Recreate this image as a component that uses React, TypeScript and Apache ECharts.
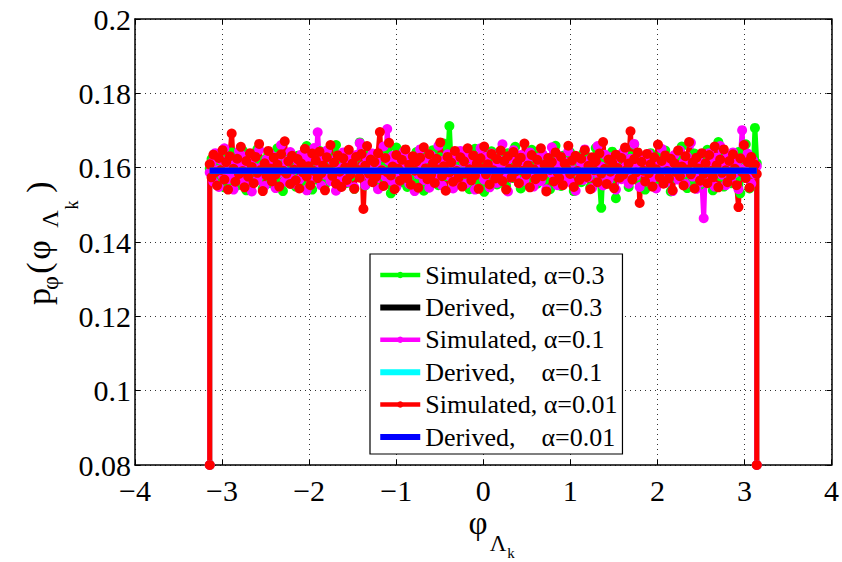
import React, { useEffect, useRef } from "react";
import * as echarts from "echarts";

const X_TICKS = [-4, -3, -2, -1, 0, 1, 2, 3, 4];
const Y_TICKS = [0.08, 0.1, 0.12, 0.14, 0.16, 0.18, 0.2];
const EDGE = 0.08;
const DERIVED = [0.1592, 0.1592];

const SIM_03 = [
  0.1598, 0.1623, 0.1571, 0.1609, 0.1556, 0.1634, 0.1588, 0.1612, 0.1547, 0.1629, 0.1594, 0.1566, 0.1641, 0.1583, 0.1605,
  0.1552, 0.1618, 0.1577, 0.1646, 0.1591, 0.1539, 0.1614, 0.1586, 0.1627, 0.1562, 0.1601, 0.1649, 0.1573, 0.1608, 0.1544,
  0.1621, 0.1589, 0.1636, 0.1558, 0.1597, 0.1615, 0.1569, 0.1652, 0.1584, 0.1603, 0.1537, 0.1626, 0.1592, 0.1574, 0.1639,
  0.1581, 0.1611, 0.1549, 0.1632, 0.1596, 0.1563, 0.1619, 0.1587, 0.1658, 0.1575, 0.1602, 0.1541, 0.1624, 0.1593, 0.1567,
  0.1645, 0.1579, 0.1613, 0.1554, 0.1637, 0.1598, 0.1571, 0.1622, 0.1585, 0.1661, 0.1594, 0.1548, 0.1617, 0.1582, 0.1606,
  0.1559, 0.1631, 0.1576, 0.1609, 0.1543, 0.1627, 0.1591, 0.1668, 0.1578, 0.1604, 0.1552, 0.1635, 0.1588, 0.1615, 0.1564,
  0.1621, 0.1597, 0.1545, 0.1638, 0.1583, 0.1612, 0.1569, 0.1643, 0.1592, 0.1531, 0.1618, 0.1586, 0.1654, 0.1573, 0.1607,
  0.1561, 0.1629, 0.1595, 0.1548, 0.1624, 0.1581, 0.1613, 0.1557, 0.1642, 0.1599, 0.1574, 0.1616, 0.1538, 0.1633, 0.1589,
  0.1605, 0.1566, 0.1647, 0.1584, 0.1611, 0.1553, 0.1628, 0.1596, 0.1665, 0.1577, 0.1619, 0.1712, 0.1602, 0.1546, 0.1623,
  0.1587, 0.1614, 0.1559, 0.1636, 0.1593, 0.1571, 0.1626, 0.1542, 0.1609, 0.1582, 0.1651, 0.1597, 0.1564, 0.1618, 0.1589,
  0.1535, 0.1623, 0.1601, 0.1576, 0.1644, 0.1585, 0.1612, 0.1555, 0.1631, 0.1594, 0.1568, 0.1617, 0.1549, 0.1639, 0.1592,
  0.1608, 0.1572, 0.1656, 0.1583, 0.1615, 0.1544, 0.1627, 0.1598, 0.1563, 0.1621, 0.1586, 0.1648, 0.1579, 0.1603, 0.1557,
  0.1634, 0.1591, 0.1612, 0.1566, 0.1625, 0.1581, 0.1542, 0.1619, 0.1596, 0.1659, 0.1574, 0.1607, 0.1551, 0.1632, 0.1588,
  0.1613, 0.1569, 0.1641, 0.1595, 0.1537, 0.1622, 0.1584, 0.1606, 0.1561, 0.1637, 0.1592, 0.1575, 0.1628, 0.1547, 0.1611,
  0.1583, 0.1653, 0.1598, 0.1565, 0.1492, 0.1604, 0.1626, 0.1578, 0.1615, 0.1556, 0.1643, 0.1589, 0.1518, 0.1621, 0.1597,
  0.1572, 0.1634, 0.1585, 0.1609, 0.1548, 0.1631, 0.1593, 0.1662, 0.1576, 0.1612, 0.1558, 0.1625, 0.1599, 0.1541, 0.1617,
  0.1587, 0.1639, 0.1568, 0.1604, 0.1553, 0.1628, 0.1591, 0.1614, 0.1562, 0.1646, 0.1582, 0.1607, 0.1536, 0.1623, 0.1595,
  0.1571, 0.1632, 0.1589, 0.1657, 0.1578, 0.1611, 0.1545, 0.1619, 0.1594, 0.1566, 0.1638, 0.1583, 0.1602, 0.1554, 0.1626,
  0.1597, 0.1563, 0.1648, 0.1586, 0.1613, 0.1539, 0.1621, 0.1592, 0.1669, 0.1577, 0.1605, 0.1549, 0.1633, 0.1581, 0.1616,
  0.1558, 0.1627, 0.1596, 0.1573, 0.1642, 0.1531, 0.1609, 0.1588, 0.1663, 0.1601, 0.1544, 0.1624, 0.1585, 0.1707, 0.1612,
];

const SIM_01 = [
  0.1587, 0.1613, 0.1562, 0.1639, 0.1594, 0.1548, 0.1621, 0.1578, 0.1652, 0.1603, 0.1569, 0.1626, 0.1583, 0.1541, 0.1617,
  0.1596, 0.1644, 0.1572, 0.1609, 0.1555, 0.1631, 0.1588, 0.1614, 0.1536, 0.1627, 0.1599, 0.1566, 0.1648, 0.1581, 0.1605,
  0.1551, 0.1622, 0.1593, 0.1637, 0.1574, 0.1611, 0.1545, 0.1629, 0.1586, 0.1661, 0.1597, 0.1563, 0.1618, 0.1579, 0.1642,
  0.1591, 0.1557, 0.1624, 0.1602, 0.1568, 0.1635, 0.1584, 0.1612, 0.1539, 0.1628, 0.1595, 0.1571, 0.1653, 0.1589, 0.1695,
  0.1606, 0.1552, 0.1623, 0.1581, 0.1646, 0.1593, 0.1564, 0.1619, 0.1587, 0.1538, 0.1632, 0.1598, 0.1575, 0.1641, 0.1609,
  0.1561, 0.1627, 0.1585, 0.1615, 0.1547, 0.1634, 0.1592, 0.1666, 0.1578, 0.1604, 0.1553, 0.1625, 0.1596, 0.1569, 0.1638,
  0.1583, 0.1611, 0.1542, 0.1629, 0.1594, 0.1657, 0.1576, 0.1704, 0.1618, 0.1565, 0.1632, 0.1587, 0.1548, 0.1621, 0.1599,
  0.1574, 0.1643, 0.1589, 0.1612, 0.1556, 0.1628, 0.1593, 0.1537, 0.1616, 0.1582, 0.1649, 0.1601, 0.1567, 0.1624, 0.1591,
  0.1546, 0.1633, 0.1585, 0.1608, 0.1571, 0.1659, 0.1597, 0.1552, 0.1619, 0.1586, 0.1636, 0.1578, 0.1611, 0.1544, 0.1627,
  0.1595, 0.1563, 0.1645, 0.1588, 0.1614, 0.1557, 0.1631, 0.1599, 0.1572, 0.1623, 0.1541, 0.1617, 0.1584, 0.1652, 0.1596,
  0.1568, 0.1629, 0.1591, 0.1547, 0.1638, 0.1582, 0.1606, 0.1559, 0.1621, 0.1594, 0.1663, 0.1577, 0.1613, 0.1536, 0.1625,
  0.1589, 0.1647, 0.1573, 0.1602, 0.1558, 0.1634, 0.1596, 0.1565, 0.1618, 0.1584, 0.1641, 0.1592, 0.1549, 0.1627, 0.1581,
  0.1612, 0.1564, 0.1636, 0.1598, 0.1542, 0.1623, 0.1587, 0.1655, 0.1579, 0.1608, 0.1553, 0.1631, 0.1595, 0.1572, 0.1616,
  0.1586, 0.1644, 0.1561, 0.1619, 0.1593, 0.1538, 0.1627, 0.1582, 0.1611, 0.1567, 0.1649, 0.1597, 0.1575, 0.1622, 0.1545,
  0.1614, 0.1589, 0.1658, 0.1574, 0.1603, 0.1552, 0.1635, 0.1591, 0.1566, 0.1628, 0.1583, 0.1617, 0.1541, 0.1632, 0.1598,
  0.1569, 0.1642, 0.1585, 0.1612, 0.1557, 0.1624, 0.1594, 0.1664, 0.1578, 0.1606, 0.1548, 0.1631, 0.1589, 0.1615, 0.1563,
  0.1637, 0.1592, 0.1571, 0.1626, 0.1544, 0.1618, 0.1586, 0.1651, 0.1599, 0.1559, 0.1623, 0.1581, 0.1609, 0.1537, 0.1634,
  0.1595, 0.1568, 0.1646, 0.1583, 0.1614, 0.1556, 0.1629, 0.1592, 0.1667, 0.1576, 0.1604, 0.1543, 0.1621, 0.1588, 0.1561,
  0.1464, 0.1611, 0.1587, 0.1639, 0.1572, 0.1616, 0.1549, 0.1627, 0.1596, 0.1658, 0.1581, 0.1607, 0.1553, 0.1632, 0.1593,
  0.1566, 0.1641, 0.1585, 0.1613, 0.1542, 0.1624, 0.1701, 0.1597, 0.1574, 0.1638, 0.1589, 0.1557, 0.1619, 0.1583, 0.1604,
];

const SIM_001 = [
  0.1609, 0.1574, 0.1635, 0.1588, 0.1552, 0.1626, 0.1593, 0.1647, 0.1568, 0.1615, 0.1541, 0.1631, 0.1692, 0.1597, 0.1562,
  0.1624, 0.1583, 0.1656, 0.1591, 0.1547, 0.1618, 0.1576, 0.1639, 0.1602, 0.1558, 0.1629, 0.1586, 0.1664, 0.1594, 0.1537,
  0.1612, 0.1579, 0.1645, 0.1598, 0.1563, 0.1627, 0.1581, 0.1608, 0.1549, 0.1636, 0.1592, 0.1671, 0.1584, 0.1617, 0.1556,
  0.1632, 0.1595, 0.1566, 0.1623, 0.1544, 0.1611, 0.1587, 0.1651, 0.1576, 0.1604, 0.1553, 0.1638, 0.1591, 0.1619, 0.1572,
  0.1643, 0.1585, 0.1606, 0.1539, 0.1628, 0.1596, 0.1661, 0.1578, 0.1614, 0.1557, 0.1633, 0.1589, 0.1548, 0.1625, 0.1601,
  0.1567, 0.1648, 0.1582, 0.1611, 0.1543, 0.1629, 0.1594, 0.1573, 0.1637, 0.1489, 0.1605, 0.1658, 0.1584, 0.1622, 0.1561,
  0.1615, 0.1576, 0.1639, 0.1696, 0.1593, 0.1551, 0.1626, 0.1588, 0.1667, 0.1579, 0.1603, 0.1542, 0.1634, 0.1597, 0.1565,
  0.1621, 0.1586, 0.1649, 0.1572, 0.1608, 0.1554, 0.1631, 0.1592, 0.1617, 0.1546, 0.1627, 0.1583, 0.1655, 0.1598, 0.1569,
  0.1636, 0.1581, 0.1612, 0.1559, 0.1624, 0.1595, 0.1668, 0.1577, 0.1604, 0.1538, 0.1629, 0.1587, 0.1614, 0.1562, 0.1645,
  0.1591, 0.1573, 0.1628, 0.1549, 0.1617, 0.1584, 0.1652, 0.1596, 0.1566, 0.1633, 0.1579, 0.1611, 0.1543, 0.1625, 0.1598,
  0.1657, 0.1582, 0.1609, 0.1555, 0.1637, 0.1593, 0.1571, 0.1623, 0.1586, 0.1646, 0.1564, 0.1618, 0.1541, 0.1631, 0.1597,
  0.1574, 0.1642, 0.1589, 0.1613, 0.1558, 0.1627, 0.1592, 0.1665, 0.1581, 0.1606, 0.1547, 0.1634, 0.1596, 0.1569, 0.1621,
  0.1585, 0.1652, 0.1577, 0.1608, 0.1536, 0.1626, 0.1594, 0.1615, 0.1563, 0.1641, 0.1588, 0.1572, 0.1629, 0.1553, 0.1611,
  0.1596, 0.1659, 0.1583, 0.1619, 0.1548, 0.1632, 0.1591, 0.1567, 0.1624, 0.1587, 0.1647, 0.1575, 0.1605, 0.1542, 0.1628,
  0.1593, 0.1617, 0.1561, 0.1638, 0.1584, 0.1669, 0.1597, 0.1556, 0.1622, 0.1589, 0.1613, 0.1545, 0.1635, 0.1599, 0.1573,
  0.1626, 0.1581, 0.1654, 0.1594, 0.1611, 0.1698, 0.1568, 0.1623, 0.1587, 0.1641, 0.1505, 0.1616, 0.1592, 0.1563, 0.1637,
  0.1585, 0.1609, 0.1549, 0.1628, 0.1596, 0.1662, 0.1574, 0.1618, 0.1557, 0.1633, 0.1591, 0.1571, 0.1624, 0.1539, 0.1612,
  0.1588, 0.1646, 0.1577, 0.1603, 0.1552, 0.1631, 0.1595, 0.1669, 0.1582, 0.1614, 0.1544, 0.1627, 0.1598, 0.1565, 0.1639,
  0.1583, 0.1612, 0.1558, 0.1634, 0.1591, 0.1574, 0.1657, 0.1606, 0.1547, 0.1622, 0.1586, 0.1649, 0.1593, 0.1561, 0.1618,
  0.1579, 0.1636, 0.1597, 0.1553, 0.1494, 0.1625, 0.1588, 0.1661, 0.1572, 0.1615, 0.1546, 0.1629, 0.1594, 0.1608, 0.1583,
];

const NAMES = [
  "Simulated, \u03b1=0.3",
  "Derived,    \u03b1=0.3",
  "Simulated, \u03b1=0.1",
  "Derived,    \u03b1=0.1",
  "Simulated, \u03b1=0.01",
  "Derived,    \u03b1=0.01",
];
const COLORS = ["#00ff00", "#000000", "#ff00ff", "#00ffff", "#ff0000", "#0000ff"];

const FONT = "Liberation Serif";

function simData(vals: number[]) {
  const n = vals.length;
  const step = (2 * Math.PI) / (n - 1);
  const pts: number[][] = [[-Math.PI, EDGE]];
  vals.forEach((v, i) => pts.push([-Math.PI + i * step, v]));
  pts.push([Math.PI, EDGE]);
  return pts;
}

function derivedData() {
  return [
    [-Math.PI, DERIVED[0]],
    [Math.PI, DERIVED[1]],
  ];
}

export default function App() {
  const ref = useRef<HTMLDivElement>(null);
  useEffect(() => {
    document.body.style.margin = "0";
    if (!ref.current) return;
    const chart = echarts.init(ref.current, undefined, { renderer: "svg" });
    const sims = [SIM_03, SIM_01, SIM_001];
    const series: any[] = [];
    for (let k = 0; k < 3; k++) {
      series.push({
        name: NAMES[2 * k],
        type: "line",
        data: simData(sims[k]),
        symbol: "circle",
        symbolSize: 10,
        lineStyle: { width: 5, color: COLORS[2 * k] },
        itemStyle: { color: COLORS[2 * k] },
        clip: true,
        z: 2,
      });
      series.push({
        name: NAMES[2 * k + 1],
        type: "line",
        data: derivedData(),
        symbol: "none",
        lineStyle: { width: 6, color: COLORS[2 * k + 1] },
        itemStyle: { color: COLORS[2 * k + 1] },
        z: 4,
      });
    }
    const gridLine = { show: true, lineStyle: { color: "#333", type: [1, 4], width: 1 } };
    const axisLine = { show: true, onZero: false, lineStyle: { color: "#000", width: 1.5 } };
    const tick = { show: true, inside: true, length: 5, lineStyle: { color: "#000", width: 1 } };
    const xMin = X_TICKS[0], xMax = X_TICKS[X_TICKS.length - 1];
    const yMin = Y_TICKS[0], yMax = Y_TICKS[Y_TICKS.length - 1];
    const sub = (text: string, x: number, y: number, size: number, rot = 0) => ({
      type: "text",
      x,
      y,
      rotation: rot,
      style: {
        text,
        fill: "#000",
        fontSize: size,
        fontFamily: FONT,
        align: "center",
        verticalAlign: "middle",
      },
      z: 100,
    });
    const R = Math.PI / 2;
    const lineIcon = "path://M0,0H40V6H0Z";
    chart.setOption({
      animation: false,
      backgroundColor: "#fff",
      grid: { left: 135, right: 9, top: 19, bottom: 97 },
      xAxis: [
        {
          type: "value",
          min: xMin,
          max: xMax,
          interval: 1,
          position: "bottom",
          axisLine,
          axisTick: tick,
          splitLine: gridLine,
          axisLabel: {
            color: "#000",
            fontFamily: FONT,
            fontSize: 30,
            lineHeight: 30,
            margin: 10,
            formatter: (v: number) => (v < 0 ? "\u2212" + Math.abs(v) : String(v)),
          },
        },
        {
          type: "value",
          min: xMin,
          max: xMax,
          interval: 1,
          position: "top",
          axisLine,
          axisTick: tick,
          splitLine: { show: false },
          axisLabel: { show: false },
        },
      ],
      yAxis: [
        {
          type: "value",
          min: yMin,
          max: yMax,
          interval: 0.02,
          position: "left",
          axisLine,
          axisTick: tick,
          splitLine: gridLine,
          axisLabel: {
            color: "#000",
            fontFamily: FONT,
            fontSize: 30,
            lineHeight: 20,
            margin: 4,
            formatter: (v: number) => String(parseFloat(v.toFixed(2))),
          },
        },
        {
          type: "value",
          min: yMin,
          max: yMax,
          interval: 0.02,
          position: "right",
          axisLine,
          axisTick: tick,
          splitLine: { show: false },
          axisLabel: { show: false },
        },
      ],
      legend: {
        orient: "vertical",
        left: 370,
        top: 254,
        padding: [8, 5, 4, 8],
        itemGap: 6.4,
        itemWidth: 40,
        itemHeight: 8,
        backgroundColor: "#fff",
        borderColor: "#000",
        borderWidth: 1.2,
        borderRadius: 0,
        lineStyle: { width: 4.5 },
        data: NAMES.map((n, i) => (i % 2 === 1 ? { name: n, icon: lineIcon } : { name: n })),
        textStyle: { color: "#000", fontFamily: FONT, fontSize: 26, lineHeight: 26 },
      },
      graphic: [
        sub("\u03c6", 478, 523, 33),
        sub("\u039b", 498, 543, 23),
        sub("k", 511, 553, 15),
        sub("p", 38.5, 296.5, 34, R),
        sub("\u03c6", 50, 283, 24, R),
        sub("(", 38.5, 268, 34, R),
        sub("\u03c6", 38.5, 250, 34, R),
        sub("\u039b", 50, 219, 24, R),
        sub("k", 72, 205, 18, R),
        sub(")", 38.5, 187, 34, R),
      ],
      series,
    });
    return () => chart.dispose();
  }, []);
  return <div ref={ref} style={{ width: 842, height: 562 }} />;
}
